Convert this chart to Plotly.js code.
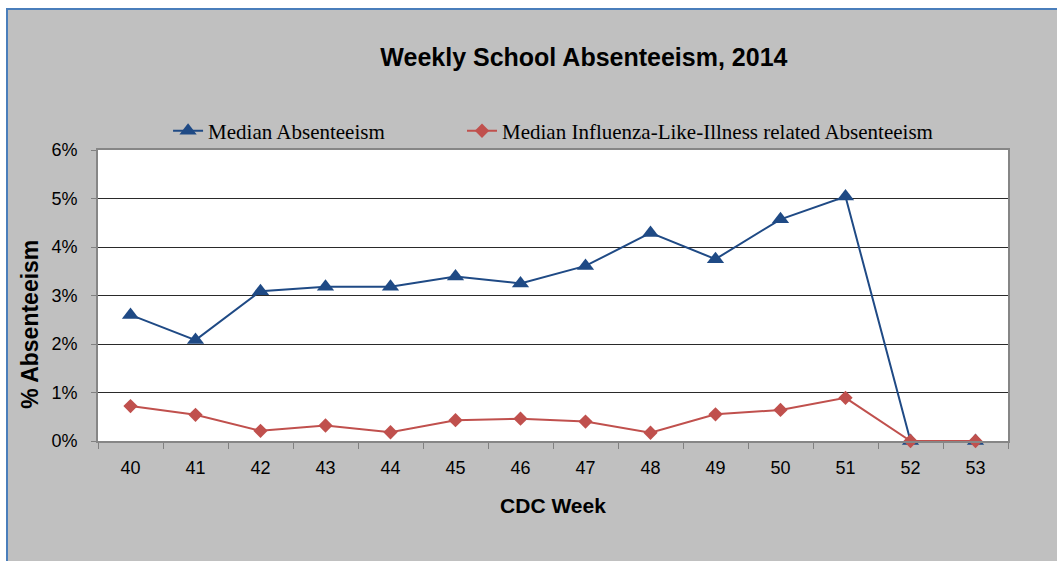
<!DOCTYPE html>
<html>
<head>
<meta charset="utf-8">
<script src="https://cdn.plot.ly/plotly-3.0.1.min.js"></script>
<style>
  html, body { margin: 0; padding: 0; background: #ffffff; width: 1057px; height: 561px; overflow: hidden; }
  #frame { position: absolute; left: 6px; top: 8px; width: 1051px; height: 553px; box-sizing: border-box;
           background: #C0C0C0; border-left: 2px solid #4A7EBB; border-top: 2px solid #4A7EBB; }
  #chart { width: 1049px; height: 551px; }
</style>
</head>
<body>
<div id="frame"><div id="chart"></div></div>
<script>
const weeks = ['40','41','42','43','44','45','46','47','48','49','50','51','52','53'];
const medianAbsenteeism = [2.60, 2.08, 3.09, 3.18, 3.18, 3.39, 3.25, 3.61, 4.29, 3.75, 4.57, 5.04, 0, 0];
const medianILIAbsenteeism = [0.72, 0.54, 0.21, 0.32, 0.18, 0.43, 0.46, 0.40, 0.17, 0.55, 0.64, 0.89, 0, 0];
const seriesNames = ['Median Absenteeism', 'Median Influenza-Like-Illness related Absenteeism'];
const yTicks = [0, 1, 2, 3, 4, 5, 6];
const yTickLabels = ['0%', '1%', '2%', '3%', '4%', '5%', '6%'];

const traces = [
  {
    x: weeks, y: medianAbsenteeism, name: seriesNames[0], type: 'scatter', mode: 'lines+markers',
    line: { color: '#1F4A85', width: 2 },
    marker: { symbol: 'triangle-up', size: 15, color: '#1F4A85' },
    cliponaxis: false, legend: 'legend'
  },
  {
    x: weeks, y: medianILIAbsenteeism, name: seriesNames[1], type: 'scatter', mode: 'lines+markers',
    line: { color: '#C0504D', width: 2 },
    marker: { symbol: 'diamond', size: 11, color: '#C0504D' },
    cliponaxis: false, legend: 'legend2'
  }
];

const legendFont = { family: 'Liberation Serif, Times New Roman, serif', size: 21, color: '#000' };

const layout = {
  width: 1049, height: 551,
  margin: { l: 90, r: 49, t: 140, b: 120 },
  paper_bgcolor: '#C0C0C0',
  plot_bgcolor: '#FFFFFF',
  title: {
    text: '<b>Weekly School Absenteeism, 2014</b>',
    font: { family: 'Liberation Sans, Arial, sans-serif', size: 25, color: '#000' },
    xref: 'container', x: 0.549, xanchor: 'center',
    yref: 'container', y: 0.915, yanchor: 'middle'
  },
  showlegend: true,
  legend: {
    orientation: 'h', x: 0.077, xanchor: 'left', y: 1.065, yanchor: 'middle',
    bgcolor: 'rgba(0,0,0,0)', font: legendFont
  },
  legend2: {
    orientation: 'h', x: 0.400, xanchor: 'left', y: 1.065, yanchor: 'middle',
    bgcolor: 'rgba(0,0,0,0)', font: legendFont
  },
  xaxis: {
    type: 'category', categoryorder: 'array', categoryarray: weeks, range: [-0.5, 13.5],
    tickson: 'boundaries', ticks: 'outside', ticklen: 6, tickcolor: '#808080', tickwidth: 1,
    showline: true, linecolor: '#868686', linewidth: 2, mirror: true,
    showgrid: false, ticklabelstandoff: 9,
    tickfont: { family: 'Liberation Sans, Arial, sans-serif', size: 18, color: '#000' },
    title: { text: '<b>CDC Week</b>', standoff: 22,
             font: { family: 'Liberation Sans, Arial, sans-serif', size: 21, color: '#000' } }
  },
  yaxis: {
    range: [0, 6], tickmode: 'array', tickvals: yTicks, ticktext: yTickLabels,
    ticks: 'outside', ticklen: 5, tickcolor: '#808080', tickwidth: 1,
    showline: true, linecolor: '#868686', linewidth: 2, mirror: true,
    showgrid: true, gridcolor: '#2a2a2a', gridwidth: 1, zeroline: false, ticklabelstandoff: 10,
    automargin: true,
    tickfont: { family: 'Liberation Sans, Arial, sans-serif', size: 18, color: '#000' },
    title: { text: '<b>% Absenteeism</b><span style="color:rgba(0,0,0,0)">\u00a0\u00a0\u00a0\u00a0\u00a0\u00a0\u00a0\u00a0.</span>', standoff: 6,
             font: { family: 'Liberation Sans, Arial, sans-serif', size: 23, color: '#000' } }
  }
};

Plotly.newPlot('chart', traces, layout, { displayModeBar: false, staticPlot: true });
</script>
</body>
</html>
